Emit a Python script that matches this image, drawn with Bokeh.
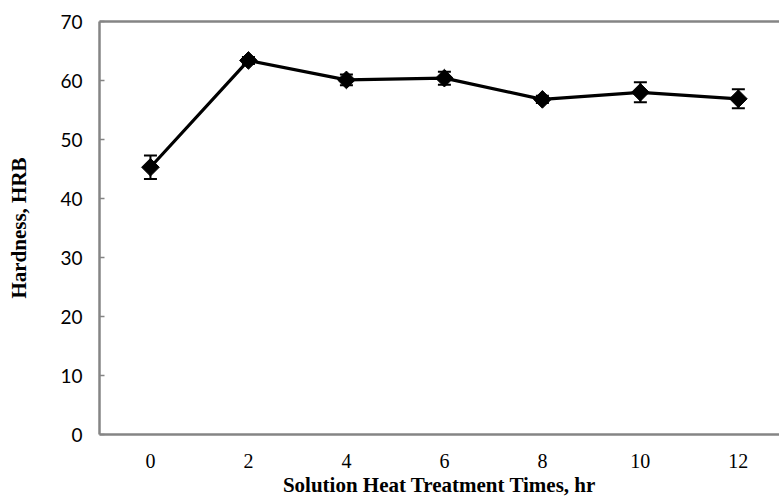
import math
from bokeh.plotting import figure
from bokeh.models import ColumnDataSource, Range1d, Whisker, TeeHead, LinearAxis, FixedTicker
from bokeh.embed import file_html
from bokeh.resources import INLINE

times = [0, 2, 4, 6, 8, 10, 12]
hardness = [45.3, 63.4, 60.1, 60.4, 56.8, 58.0, 56.9]
errors = [2.0, 0.6, 0.9, 1.1, 0.6, 1.7, 1.6]
y_ticks = [0, 10, 20, 30, 40, 50, 60, 70]

upper = [h + e for h, e in zip(hardness, errors)]
lower = [h - e for h, e in zip(hardness, errors)]
src = ColumnDataSource(dict(x=times, y=hardness, upper=upper, lower=lower))

p = figure(width=779, height=500, output_backend="svg", toolbar_location=None,
           x_range=Range1d(-1.04, 12.84), y_range=Range1d(0, 70),
           min_border_left=99, min_border_right=0, min_border_top=21, min_border_bottom=66)
p.outline_line_color = None
p.grid.grid_line_color = None
p.background_fill_color = "white"

p.line("x", "y", source=src, line_color="black", line_width=3.2)
wh = Whisker(base="x", upper="upper", lower="lower", source=src,
             line_color="black", line_width=2,
             upper_head=TeeHead(size=13, line_color="black", line_width=2),
             lower_head=TeeHead(size=13, line_color="black", line_width=2))
p.add_layout(wh)
p.scatter("x", "y", source=src, marker="square", angle=math.pi / 4, size=12.5,
          fill_color="black", line_color="black")

ax_color = "#858585"
xa = p.xaxis[0]
xa.ticker = FixedTicker(ticks=times)
xa.axis_line_color = ax_color
xa.axis_line_width = 2.5
xa.major_tick_line_color = None
xa.minor_tick_line_color = None
xa.major_label_text_font = "Liberation Serif"
xa.major_label_text_font_size = "20px"
xa.major_label_text_color = "black"
xa.major_label_standoff = 13
xa.axis_label = "Solution Heat Treatment Times, hr"
xa.axis_label_text_font = "Liberation Serif"
xa.axis_label_text_font_style = "bold"
xa.axis_label_text_font_size = "21px"
xa.axis_label_text_color = "black"
xa.axis_label_standoff = 2

ya = p.yaxis[0]
ya.ticker = FixedTicker(ticks=y_ticks)
ya.axis_line_color = ax_color
ya.axis_line_width = 2.5
ya.major_tick_line_color = ax_color
ya.major_tick_line_width = 1.5
ya.major_tick_in = 5
ya.major_tick_out = 0
ya.minor_tick_line_color = None
ya.major_label_text_font = "Lato"
ya.major_label_text_font_size = "19px"
ya.major_label_text_color = "black"
ya.major_label_standoff = 17
ya.axis_label = "Hardness, HRB"
ya.axis_label_text_font = "Liberation Serif"
ya.axis_label_text_font_style = "bold"
ya.axis_label_text_font_size = "21px"
ya.axis_label_text_color = "black"
ya.axis_label_standoff = 26

top = LinearAxis(ticker=FixedTicker(ticks=[]), axis_line_color=ax_color, axis_line_width=2.5,
                 major_tick_line_color=None, minor_tick_line_color=None,
                 major_label_text_font_size="0px")
p.add_layout(top, "above")

open("out.html", "w").write(file_html(p, INLINE))
